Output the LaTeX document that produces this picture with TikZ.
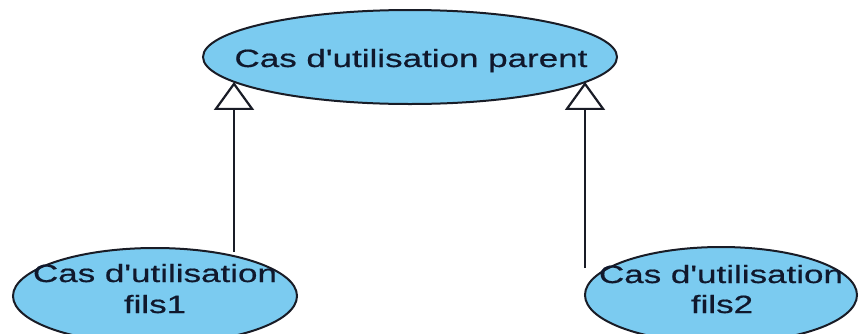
\documentclass[tikz,border=0pt]{standalone}
\usepackage{fontspec}
\usetikzlibrary{shapes.geometric,arrows.meta}
\newfontfamily\labelfont{Liberation Sans}[FakeStretch=1.4, FakeBold=0.6]
\definecolor{usecasefill}{RGB}{123,203,240}
\definecolor{usecaseline}{RGB}{25,28,38}
\definecolor{labelink}{RGB}{16,24,44}
\tikzset{
  usecase/.style={ellipse, draw=usecaseline, line width=2pt, fill=usecasefill, inner sep=0pt},
  caselabel/.style={font=\labelfont\fontsize{25}{31}\selectfont, text=labelink, align=center, inner sep=0pt},
  generalize/.style={draw=usecaseline, line width=2.2pt,
    -{Triangle[open, length=28pt, width=40pt, line width=2.2pt, fill=white]}}
}
\begin{document}
\begin{tikzpicture}[x=1pt, y=-1pt]
  \useasboundingbox (0,0) rectangle (859,333);
  \clip (0,0) rectangle (859,333);

  % use cases
  \node[usecase, minimum width=414pt, minimum height=94pt] (parent) at (410,57) {};
  \node[usecase, minimum width=284pt, minimum height=96pt] (child1) at (155,296) {};
  \node[usecase, minimum width=272pt, minimum height=96pt] (child2) at (721,295) {};

  % their names
  \node[caselabel, anchor=base] (parentname) at (411,67) {Cas d'utilisation parent};
  \node[caselabel, anchor=base] (child1name) at (155,282) {Cas d'utilisation};
  \node[caselabel, anchor=base] (child1sub) at (155,313) {fils1};
  \node[caselabel, anchor=base] (child2name) at (721,283) {Cas d'utilisation};
  \node[caselabel, anchor=base] (child2sub) at (722,313) {fils2};

  % generalization links, child to parent
  \coordinate (from1) at (234,252);
  \coordinate (from2) at (585,268);
  \draw[generalize] (from1) -- (from1 |- parent.188);
  \draw[generalize] (from2) -- (from2 |- parent.352);
\end{tikzpicture}
\end{document}
